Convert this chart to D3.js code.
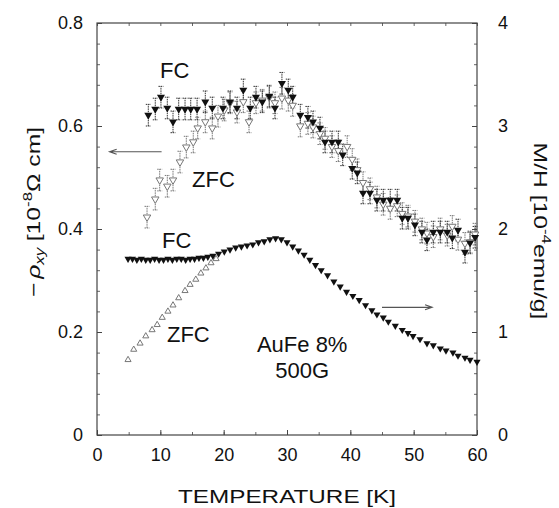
<!DOCTYPE html>
<html>
<head>
<meta charset="utf-8">
<script src="https://cdn.jsdelivr.net/npm/d3@7"></script>
<style>
  body { margin: 0; background: #fff; }
  text { font-family: "Liberation Sans", Arial, sans-serif; fill: #111; }
</style>
</head>
<body>
<div id="app"></div>
<script>
// axis ticks
const tempTicks = [0, 10, 20, 30, 40, 50, 60];
const rhoTicks = [0, 0.2, 0.4, 0.6, 0.8];
const mhTicks = [0, 1, 2, 3, 4];

// Hall resistivity (left axis), FC
const rhoFcT = [8.1, 9.2, 10.1, 11.1, 12.0, 12.9, 13.9, 14.8, 15.8, 17.1, 18.2, 19.9, 21.0, 22.1, 23.1, 24.2, 25.1, 26.1, 27.2, 28.1, 29.2, 30.2, 30.9, 32.1,
  33.3, 34.1, 35.2, 36.0, 37.1, 38.1, 38.8, 40.3, 41.1, 42.0, 43.1, 44.2, 45.2, 46.3, 47.4, 48.2, 49.1, 50.2, 51.3, 52.1, 53.1, 54.2, 55.3, 56.1, 57.0, 58.1, 58.9, 59.7];
const rhoFcV = [0.621, 0.633, 0.656, 0.635, 0.608, 0.633, 0.633, 0.633, 0.633, 0.647, 0.635, 0.635, 0.647, 0.635, 0.670, 0.635, 0.656, 0.647, 0.658, 0.635, 0.683, 0.670, 0.656, 0.621,
  0.617, 0.608, 0.596, 0.569, 0.569, 0.569, 0.544, 0.518, 0.509, 0.470, 0.470, 0.456, 0.456, 0.456, 0.456, 0.421, 0.421, 0.408, 0.394, 0.379, 0.394, 0.394, 0.394, 0.383, 0.398, 0.355, 0.373, 0.384];

// Hall resistivity, ZFC
const rhoZfcT = [7.9, 9.2, 9.9, 11.1, 12.0, 13.1, 14.1, 15.2, 15.9, 17.1, 18.2, 19.1, 20.1, 21.0, 22.1, 23.1, 24.0, 25.1, 26.1, 27.2, 28.1, 29.2, 30.2, 30.9,
  32.1, 33.3, 34.1, 35.2, 36.0, 37.1, 38.1, 39.5, 40.3, 41.1, 42.0, 43.1, 44.2, 45.2, 46.3, 47.4, 48.2, 49.1, 50.2, 51.3, 52.1, 53.1, 54.2, 55.3, 56.1, 57.0, 58.1, 58.9, 59.7];
const rhoZfcV = [0.423, 0.458, 0.495, 0.483, 0.495, 0.530, 0.559, 0.569, 0.596, 0.608, 0.596, 0.619, 0.631, 0.645, 0.627, 0.647, 0.608, 0.645, 0.650, 0.656, 0.645, 0.654, 0.650, 0.640,
  0.600, 0.605, 0.598, 0.585, 0.576, 0.560, 0.552, 0.560, 0.535, 0.515, 0.490, 0.478, 0.462, 0.448, 0.440, 0.445, 0.430, 0.425, 0.415, 0.400, 0.392, 0.385, 0.400, 0.388, 0.405, 0.380, 0.372, 0.375, 0.390];
const rhoErr = 0.021;

// magnetization M/H (right axis), FC
const mhFcT = [4.9, 5.6, 6.3, 7.0, 7.7, 8.4, 9.1, 9.8, 10.5, 11.2, 11.9, 12.6, 13.3, 14.0, 14.7, 15.4, 16.1, 16.8, 17.5,
  18.3, 19.2, 20.1, 21.0, 21.9, 22.8, 23.7, 24.6, 25.5, 26.4, 27.3, 28.2, 29.1, 30.0, 30.9, 31.8, 32.7, 33.6, 34.5, 35.4, 36.4, 37.4, 38.4, 39.4,
  40.4, 41.4, 42.4, 43.4, 44.2, 45.2, 46.0, 47.1, 48.2, 49.1, 49.9, 51.0, 52.1, 53.1, 54.2, 55.1, 56.2, 57.0, 58.1, 58.9, 60.0];
const mhFcV = [1.71, 1.71, 1.70, 1.71, 1.70, 1.70, 1.71, 1.70, 1.70, 1.71, 1.70, 1.71, 1.71, 1.70, 1.71, 1.71, 1.72, 1.72, 1.73,
  1.74, 1.76, 1.78, 1.80, 1.82, 1.83, 1.84, 1.85, 1.87, 1.88, 1.90, 1.91, 1.90, 1.87, 1.83, 1.79, 1.75, 1.70, 1.65, 1.60, 1.55, 1.49, 1.44, 1.39,
  1.35, 1.31, 1.26, 1.21, 1.17, 1.14, 1.10, 1.06, 1.02, 0.99, 0.96, 0.93, 0.89, 0.87, 0.84, 0.82, 0.80, 0.77, 0.75, 0.73, 0.71];

// magnetization, ZFC
const mhZfcT = [4.9, 5.8, 6.8, 7.7, 8.7, 9.5, 10.3, 11.2, 12.0, 12.9, 13.9, 14.7, 15.6, 16.4, 17.2, 18.0, 18.8];
const mhZfcV = [0.73, 0.83, 0.89, 0.96, 1.02, 1.07, 1.14, 1.20, 1.26, 1.33, 1.40, 1.46, 1.51, 1.57, 1.62, 1.67, 1.71];

const width = 559, height = 508;
const plotLeft = 97, plotRight = 477, plotTop = 23, plotBottom = 435;

const x = d3.scaleLinear().domain([0, 60]).range([plotLeft, plotRight]);
const yL = d3.scaleLinear().domain([0, 0.8]).range([plotBottom, plotTop]);
const yR = d3.scaleLinear().domain([0, 4]).range([plotBottom, plotTop]);

const svg = d3.select("#app").append("svg")
  .attr("width", width)
  .attr("height", height);

// minor ticks (inward)
const minor = (g, axis) => {
  g.call(axis.tickFormat("").tickSizeOuter(0));
  g.select(".domain").remove();
  g.selectAll("line").attr("stroke", "#666");
};
svg.append("g").attr("transform", `translate(${plotLeft},0)`)
  .call(g => minor(g, d3.axisLeft(yL).tickValues(d3.range(0, 0.81, 0.04)).tickSizeInner(-3)));
svg.append("g").attr("transform", `translate(${plotRight},0)`)
  .call(g => minor(g, d3.axisRight(yR).tickValues(d3.range(0, 4.01, 0.2)).tickSizeInner(-3)));
svg.append("g").attr("transform", `translate(0,${plotBottom})`)
  .call(g => minor(g, d3.axisBottom(x).tickValues(d3.range(0, 61, 5)).tickSizeInner(-3)));
svg.append("g").attr("transform", `translate(0,${plotTop})`)
  .call(g => minor(g, d3.axisTop(x).tickValues(d3.range(0, 61, 5)).tickSizeInner(-3)));

// labelled axes
const styleAxis = g => {
  g.select(".domain").remove();
  g.selectAll("line").attr("stroke", "#444");
  g.selectAll("text").style("font-size", "18px").attr("fill", "#111");
};
svg.append("g").attr("transform", `translate(${plotLeft},0)`)
  .call(d3.axisLeft(yL).tickValues(rhoTicks).tickFormat(d => d === 0 ? "0" : d3.format(".1f")(d))
    .tickSizeInner(-5).tickSizeOuter(0).tickPadding(14))
  .call(styleAxis);
svg.append("g").attr("transform", `translate(${plotRight},0)`)
  .call(d3.axisRight(yR).tickValues(mhTicks).tickFormat(d3.format("d"))
    .tickSizeInner(-5).tickSizeOuter(0).tickPadding(21))
  .call(styleAxis);
svg.append("g").attr("transform", `translate(0,${plotBottom})`)
  .call(d3.axisBottom(x).tickValues(tempTicks).tickFormat(d3.format("d"))
    .tickSizeInner(-5).tickSizeOuter(0).tickPadding(13))
  .call(styleAxis);

// frame
svg.append("rect")
  .attr("x", plotLeft).attr("y", plotTop)
  .attr("width", plotRight - plotLeft).attr("height", plotBottom - plotTop)
  .attr("fill", "none").attr("stroke", "#444").attr("stroke-width", 1.2);

// error bars
const drawErr = (ts, vs, color) => {
  const g = svg.append("g").attr("stroke", color).attr("stroke-width", 1).attr("fill", "none");
  ts.forEach((t, i) => {
    const cx = x(t), y1 = yL(vs[i] - rhoErr), y2 = yL(vs[i] + rhoErr);
    g.append("path")
      .attr("d", `M${cx},${y1}V${y2}M${cx - 2.5},${y1}h5M${cx - 2.5},${y2}h5`)
      .attr("stroke-dasharray", "1.5,0.8");
  });
};
drawErr(rhoZfcT, rhoZfcV, "#777");
drawErr(rhoFcT, rhoFcV, "#333");

const tri = d3.symbol().type(d3.symbolTriangle);

// rho ZFC: open down triangles
svg.append("g").selectAll("path")
  .data(rhoZfcT.map((t, i) => [t, rhoZfcV[i]]))
  .join("path")
  .attr("d", tri.size(24)())
  .attr("transform", d => `translate(${x(d[0])},${yL(d[1])}) rotate(180)`)
  .attr("fill", "#fff").attr("stroke", "#777").attr("stroke-width", 1);

// rho FC: filled down triangles
svg.append("g").selectAll("path")
  .data(rhoFcT.map((t, i) => [t, rhoFcV[i]]))
  .join("path")
  .attr("d", tri.size(28)())
  .attr("transform", d => `translate(${x(d[0])},${yL(d[1])}) rotate(180)`)
  .attr("fill", "#111");

// M/H ZFC: open up triangles
svg.append("g").selectAll("path")
  .data(mhZfcT.map((t, i) => [t, mhZfcV[i]]))
  .join("path")
  .attr("d", tri.size(16)())
  .attr("transform", d => `translate(${x(d[0])},${yR(d[1])})`)
  .attr("fill", "#fff").attr("stroke", "#777").attr("stroke-width", 1);

// M/H FC: filled down triangles
svg.append("g").selectAll("path")
  .data(mhFcT.map((t, i) => [t, mhFcV[i]]))
  .join("path")
  .attr("d", tri.size(22)())
  .attr("transform", d => `translate(${x(d[0])},${yR(d[1])}) rotate(180)`)
  .attr("fill", "#111");

// arrows pointing to the axis each data set belongs to
const arrow = (x1, x2, y) => {
  const dir = Math.sign(x2 - x1);
  svg.append("path")
    .attr("d", `M${x1},${y}H${x2}M${x2 - dir * 7},${y - 2.5}L${x2},${y}L${x2 - dir * 7},${y + 2.5}`)
    .attr("fill", "none").attr("stroke", "#555").attr("stroke-width", 1.2);
};
arrow(x(10.2), x(2.0), yL(0.55));
arrow(x(45.0), x(52.9), yR(1.24));

// annotations
const note = (txt, t, y, anchor) => svg.append("text")
  .attr("x", x(t)).attr("y", y)
  .attr("text-anchor", anchor || "start")
  .style("font-size", "22px")
  .text(txt);
note("FC", 9.95, yL(0.693));
note("ZFC", 15.0, yL(0.482));
note("FC", 10.26, yL(0.363));
note("ZFC", 11.05, yL(0.181));
note("AuFe 8%", 32.4, yL(0.161), "middle");
note("500G", 32.4, yL(0.111), "middle");

// axis titles (the scanned font is wide, so stretch horizontally)
svg.append("text")
  .attr("x", 287).attr("y", 503)
  .attr("text-anchor", "middle")
  .attr("textLength", 218).attr("lengthAdjust", "spacingAndGlyphs")
  .style("font-size", "19px")
  .text("TEMPERATURE  [K]");

const yTitle = svg.append("text")
  .attr("transform", "translate(40,212) rotate(-90) scale(1.3,1)")
  .attr("text-anchor", "middle")
  .style("font-size", "19px");
yTitle.append("tspan").text("\u2212");
yTitle.append("tspan").attr("font-style", "italic").attr("dx", 3).text("\u03c1");
yTitle.append("tspan").attr("font-style", "italic").attr("font-size", "13px").attr("dy", 4).text("xy");
yTitle.append("tspan").attr("dy", -4).attr("dx", 5).text("[10");
yTitle.append("tspan").attr("font-size", "13px").attr("dy", -8).text("-8");
yTitle.append("tspan").attr("dy", 8).text("\u03a9 cm]");

const rTitle = svg.append("text")
  .attr("transform", "translate(534,231) rotate(90) scale(1.3,1)")
  .attr("text-anchor", "middle")
  .style("font-size", "19px");
rTitle.append("tspan").text("M/H  [10");
rTitle.append("tspan").attr("font-size", "13px").attr("dy", -8).text("-4");
rTitle.append("tspan").attr("dy", 8).text("emu/g]");
</script>
</body>
</html>
